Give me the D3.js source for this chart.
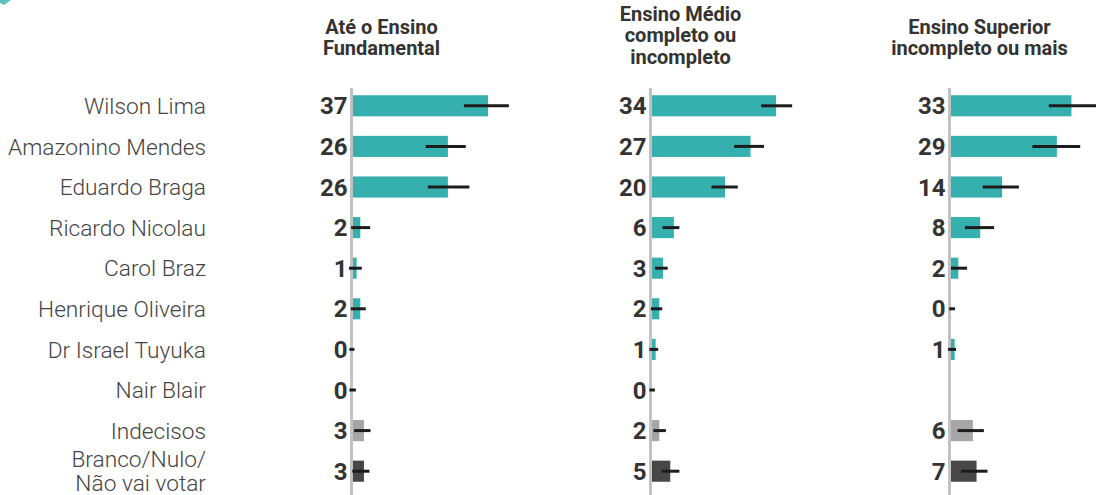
<!DOCTYPE html>
<html>
<head>
<meta charset="utf-8">
<script src="https://cdn.jsdelivr.net/npm/d3@7"></script>
<style>
  body { margin: 0; background: #fff; }
  #chart { width: 1096px; height: 495px; }
  text { font-family: Roboto, "Noto Sans", sans-serif; }
  .rowLabel { font-size: 22.7px; font-weight: 300; fill: #444; }
  .valLabel { font-size: 24px; font-weight: 700; fill: #333; }
  .header { font-size: 20px; font-weight: 700; fill: #333; }
</style>
</head>
<body>
<div id="chart"></div>
<script>
// data
const candidates = ["Wilson Lima", "Amazonino Mendes", "Eduardo Braga", "Ricardo Nicolau", "Carol Braz",
  "Henrique Oliveira", "Dr Israel Tuyuka", "Nair Blair", "Indecisos", "Branco/Nulo/\nNão vai votar"]

const headers = [
  ["Até o Ensino", "Fundamental"],
  ["Ensino Médio", "completo ou", "incompleto"],
  ["Ensino Superior", "incompleto ou mais"]
]

const fundValues = [37, 26, 26, 2, 1, 2, 0, 0, 3, 3]
const fundLow    = [30.4, 19.9, 20.5, -0.5, -1.1, -0.6, -1.0, -1.0, 0.3, -0.2]
const fundHigh   = [42.7, 30.9, 31.9, 4.7, 2.4, 3.5, 0.4, 0.8, 4.8, 4.5]

const medioValues = [34, 27, 20, 6, 3, 2, 1, 0, 2, 5]
const medioLow    = [29.9, 22.5, 16.3, 2.9, 0.8, -0.3, -0.7, -0.7, 0.4, 2.7]
const medioHigh   = [38.4, 30.7, 23.5, 7.5, 4.3, 2.8, 1.7, 0.8, 3.8, 7.5]

const superValues = [33, 29, 14, 8, 2, 0, 1, null, 6, 7]
const superLow    = [26.8, 22.3, 8.7, 3.8, 0, -0.5, -0.8, null, 1.8, 2.7]
const superHigh   = [40.5, 35.4, 18.6, 11.8, 4.4, 1.1, 1.4, null, 9.0, 10.0]

if (window.system == undefined) window.system = {}
system.barsEscolaridade = (function() {
    const that = this

    this.div = null
    this.svg = null
    this.width = 1096
    this.height = 495
    this.axisX = [351.5, 650.5, 949.5]
    this.pxPerUnit = 3.65
    this.yScale = null

    this.colors = { main: "#35b0ae", undecided: "#a6a6a6", blank: "#474747", axis: "#c2c2c2", error: "#1c1c1c" }

    this.init = (idDiv) => {
        this.div = d3.select(idDiv)
        this.yScale = d3.scaleBand()
            .domain(candidates)
            .range([85.5, 85.5 + 406])
            .paddingInner(0.48)
            .paddingOuter(0.24)
        return that
    }

    let barColor = (i) => {
        if (i == 8) return that.colors.undecided
        if (i == 9) return that.colors.blank
        return that.colors.main
    }

    this.render = () => {
        this.div.selectAll('svg').remove()
        this.svg = this.div.append("svg")
            .attr("width", this.width)
            .attr("height", this.height)

        // small fragment in the corner
        this.svg.append("path")
            .attr("d", "M0,0 L11,0 L4,5 L0,3 Z")
            .attr("fill", this.colors.main)
            .attr("opacity", 0.8)

        // row labels
        const y = this.yScale
        const labels = this.svg.append("g").attr("class", "gLabels")
        candidates.forEach(c => {
            const lines = c.split("\n")
            const cy = y(c) + y.bandwidth() / 2
            const t = labels.append("text")
                .attr("class", "rowLabel")
                .attr("text-anchor", "end")
            lines.forEach((l, k) => {
                t.append("tspan")
                    .attr("x", 206)
                    .attr("y", cy + (k - (lines.length - 1) / 2) * 24)
                    .attr("dy", "0.36em")
                    .text(l)
            })
        })

        const panels = [
            { values: fundValues, low: fundLow, high: fundHigh },
            { values: medioValues, low: medioLow, high: medioHigh },
            { values: superValues, low: superLow, high: superHigh }
        ]
        panels.forEach((p, j) => drawPanel(p, j))
    }

    let drawPanel = (p, j) => {
        const y = that.yScale
        const x0 = that.axisX[j] + 1.5
        const x = d3.scaleLinear().domain([0, 100]).range([x0, x0 + 100 * that.pxPerUnit])
        const rows = candidates.map((c, i) => ({ name: c, i: i, value: p.values[i], low: p.low[i], high: p.high[i] }))
            .filter(d => d.value != null)

        const g = that.svg.append("g").attr("class", "gPanel")

        // header
        const hl = headers[j]
        const hCenter = 37.5 - (hl.length - 2) * 2.5
        const ht = g.append("text")
            .attr("class", "header")
            .attr("text-anchor", "middle")
        hl.forEach((l, k) => {
            ht.append("tspan")
                .attr("x", that.axisX[j] + 30)
                .attr("y", hCenter + (k - (hl.length - 1) / 2) * 21.5)
                .attr("dy", "0.36em")
                .text(l)
        })

        g.selectAll("rect.bar")
            .data(rows)
            .join("rect")
            .attr("class", "bar")
            .attr("x", x(0))
            .attr("y", d => y(d.name))
            .attr("width", d => x(d.value) - x(0))
            .attr("height", y.bandwidth())
            .attr("fill", d => barColor(d.i))

        // axis line
        g.append("line")
            .attr("x1", that.axisX[j]).attr("x2", that.axisX[j])
            .attr("y1", 88).attr("y2", 495)
            .attr("stroke", that.colors.axis)
            .attr("stroke-width", 3)

        g.selectAll("line.err")
            .data(rows)
            .join("line")
            .attr("class", "err")
            .attr("x1", d => x(d.low))
            .attr("x2", d => x(d.high))
            .attr("y1", d => y(d.name) + y.bandwidth() / 2)
            .attr("y2", d => y(d.name) + y.bandwidth() / 2)
            .attr("stroke", that.colors.error)
            .attr("stroke-width", 3)

        g.selectAll("text.valLabel")
            .data(rows)
            .join("text")
            .attr("class", "valLabel")
            .attr("text-anchor", "end")
            .attr("x", that.axisX[j] - 4)
            .attr("y", d => y(d.name) + y.bandwidth() / 2)
            .attr("dy", "0.36em")
            .text(d => d.value)
    }

    return this
}).call({})

system.barsEscolaridade.init("#chart").render()
</script>
</body>
</html>
